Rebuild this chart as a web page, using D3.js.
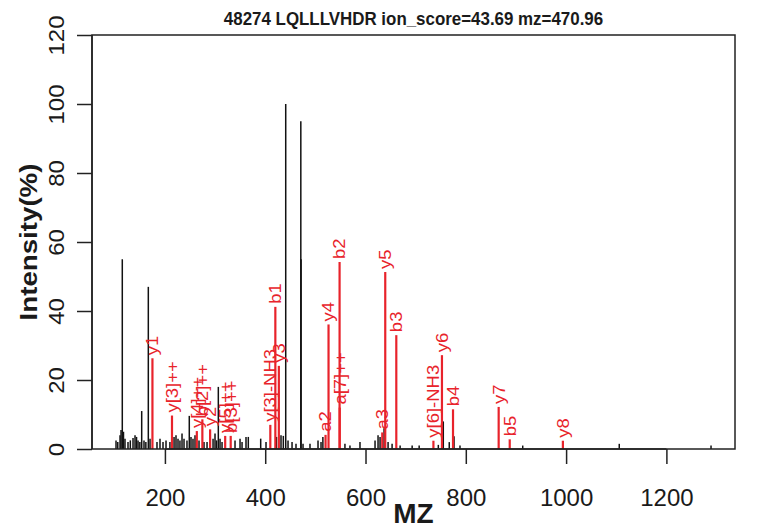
<!DOCTYPE html>
<html>
<head>
<meta charset="utf-8">
<script src="https://cdn.jsdelivr.net/npm/d3@7"></script>
<style>
  html, body { margin: 0; padding: 0; background: #fff; }
  svg { display: block; }
  text { font-family: "Liberation Sans", Arial, Helvetica, sans-serif; }
</style>
</head>
<body>
<svg id="chart" width="761" height="529"></svg>
<script>
// ---------- data ----------
const titleText = "48274 LQLLLVHDR ion_score=43.69 mz=470.96";
const xLabel = "MZ";
const yLabel = "Intensity(%)";
const xTicks = [200, 400, 600, 800, 1000, 1200];
const yTicks = [0, 20, 40, 60, 80, 100, 120];

// unmatched (black) peaks
const peakMz = [102.5, 106.0, 110.5, 112.5, 115.0, 117.4, 120.4, 126.4, 131.0, 136.4, 140.4, 143.4, 146.4,
  150.0, 153.7, 158.3, 162.0, 166.9, 170.3, 184.2, 190.2, 196.2, 202.2, 210.0, 218.2, 222.1, 226.1, 230.0,
  234.1, 238.1, 244.0, 248.6, 252.0, 256.0, 260.0, 268.0, 278.0, 284.0, 296.0, 299.9, 303.0, 306.5, 309.9,
  313.9, 339.8, 349.8, 353.8, 361.7, 366.3, 391.0, 401.6, 422.5, 431.5, 436.1, 440.9, 445.5, 453.5,
  461.4, 471.0, 471.5, 475.4, 489.3, 505.3, 511.3, 515.0, 559.0, 569.0, 589.0, 619.0, 625.0, 629.0,
  637.0, 645.0, 653.0, 669.0, 693.0, 707.0, 745.2, 755.1, 767.0, 776.5, 788.4, 913.5, 1106.0, 1289.0];
const peakInt = [2.5, 2.0, 4.0, 5.5, 55.0, 5.0, 3.0, 2.0, 2.5, 3.2, 4.0, 3.5, 2.5,
  2.0, 11.0, 2.5, 2.0, 47.0, 3.0, 2.0, 3.0, 2.0, 2.5, 2.0, 3.5, 4.0, 3.0, 2.5,
  4.5, 3.0, 2.5, 9.6, 3.5, 3.0, 4.0, 2.5, 2.0, 2.0, 3.0, 4.5, 2.5, 18.0, 3.0,
  2.0, 2.5, 3.0, 2.0, 3.5, 3.5, 3.0, 2.0, 3.5, 4.0, 3.8, 100.0, 2.5, 2.0,
  1.5, 95.0, 55.0, 1.5, 1.5, 2.5, 2.0, 3.5, 1.5, 1.0, 2.0, 2.5, 4.0, 3.5,
  6.0, 2.0, 1.5, 1.0, 1.0, 1.0, 1.2, 8.0, 2.0, 3.7, 1.0, 1.0, 1.5, 1.0];

// matched (red) fragment ions
const ionLabels = ["y1", "y[3]++", "y[4]++", "b[2]++", "y2", "y[5]++", "b[3]++", "y[3]-NH3",
  "b1", "y3", "a2", "y4", "b2", "a[7]++", "a3", "y5", "b3", "y[6]-NH3", "y6", "b4", "y7", "b5", "y8"];
const ionMz = [175.12, 214.11, 263.64, 274.66, 290.15, 320.18, 331.2, 410.18,
  420.2, 427.2, 520.3, 526.27, 548.3, 548.6, 633.4, 639.36, 661.4, 735.41, 752.44, 774.5, 865.53, 887.6, 993.58];
const ionInt = [26.3, 9.7, 5.2, 8.6, 5.7, 3.8, 3.8, 7.0,
  41.2, 24.1, 4.1, 36.1, 54.2, 12.0, 4.8, 51.3, 33.0, 2.4, 27.2, 11.5, 12.2, 2.8, 2.4];

// ---------- drawing ----------
(function () {
const svg = d3.select("#chart");
const pL = 92, pR = 735, pT = 35, pB = 449;

const x = d3.scaleLinear().domain([54.6, 1336.8]).range([pL, pR]);
const y = d3.scaleLinear().domain([0, 120]).range([pB, pT]);

const ink = "#222";
const red = "#e8232b";

// black peaks
svg.append("g").selectAll("line").data(peakMz.map((m, i) => ({m, v: peakInt[i]})))
  .join("line")
  .attr("x1", d => x(d.m)).attr("x2", d => x(d.m))
  .attr("y1", y(0)).attr("y2", d => y(d.v))
  .attr("stroke", "#111").attr("stroke-width", 1.5);

// red peaks
const ions = ionMz.map((m, i) => ({m, v: ionInt[i], label: ionLabels[i]}));
svg.append("g").selectAll("line").data(ions)
  .join("line")
  .attr("x1", d => x(d.m)).attr("x2", d => x(d.m))
  .attr("y1", y(0)).attr("y2", d => y(d.v))
  .attr("stroke", red).attr("stroke-width", 2.2);

// red labels
svg.append("g").selectAll("text").data(ions)
  .join("text")
  .attr("transform", d => `translate(${x(d.m)},${y(d.v) - 3}) scale(0.9,1) rotate(-90)`)
  .attr("dy", "0.35em")
  .attr("text-anchor", "start")
  .attr("font-size", 18.5)
  .attr("fill", red)
  .text(d => d.label);

// box
svg.append("rect")
  .attr("x", pL).attr("y", pT)
  .attr("width", pR - pL).attr("height", pB - pT)
  .attr("fill", "none").attr("stroke", ink).attr("stroke-width", 1.5);

// x axis
const gx = svg.append("g").attr("transform", `translate(0,${pB})`)
  .call(d3.axisBottom(x).tickValues(xTicks).tickSize(15).tickFormat(d3.format("d")));
gx.select(".domain").attr("d", `M${x(200)},0H${x(1200)}`).attr("stroke", ink).attr("stroke-width", 1.5);
gx.selectAll(".tick line").attr("stroke", ink).attr("stroke-width", 1.5);
gx.selectAll(".tick text")
  .attr("y", null).attr("dy", null)
  .attr("transform", `translate(0,57)`)
  .attr("font-size", 24).attr("fill", "#1a1a1a")
  .attr("font-family", "Liberation Sans, Arial, sans-serif");

// y axis
const gy = svg.append("g").attr("transform", `translate(${pL},0)`)
  .call(d3.axisLeft(y).tickValues(yTicks).tickSize(15).tickFormat(d3.format("d")));
gy.select(".domain").attr("d", `M0,${y(0)}V${y(120)}`).attr("stroke", ink).attr("stroke-width", 1.5);
gy.selectAll(".tick line").attr("stroke", ink).attr("stroke-width", 1.5);
gy.selectAll(".tick text")
  .attr("x", null).attr("dy", null)
  .attr("text-anchor", "middle")
  .attr("transform", `translate(-28,0) scale(0.9,1) rotate(-90)`)
  .attr("font-size", 24).attr("fill", "#1a1a1a")
  .attr("font-family", "Liberation Sans, Arial, sans-serif");

// axis titles
svg.append("text")
  .attr("transform", `translate(${(pL + pR) / 2},523)`)
  .attr("text-anchor", "middle").attr("font-weight", "bold").attr("font-size", 28)
  .attr("fill", "#1a1a1a").text(xLabel);
svg.append("text")
  .attr("transform", `translate(37,${(pT + pB) / 2}) scale(0.88,1) rotate(-90)`)
  .attr("text-anchor", "middle").attr("font-weight", "bold").attr("font-size", 27.7)
  .attr("fill", "#1a1a1a").text(yLabel);

// title
svg.append("text")
  .attr("transform", `translate(${(pL + pR) / 2},25) scale(0.94,1)`)
  .attr("text-anchor", "middle").attr("font-weight", "bold").attr("font-size", 18)
  .attr("fill", "#1a1a1a").text(titleText);
})();
</script>
</body>
</html>
